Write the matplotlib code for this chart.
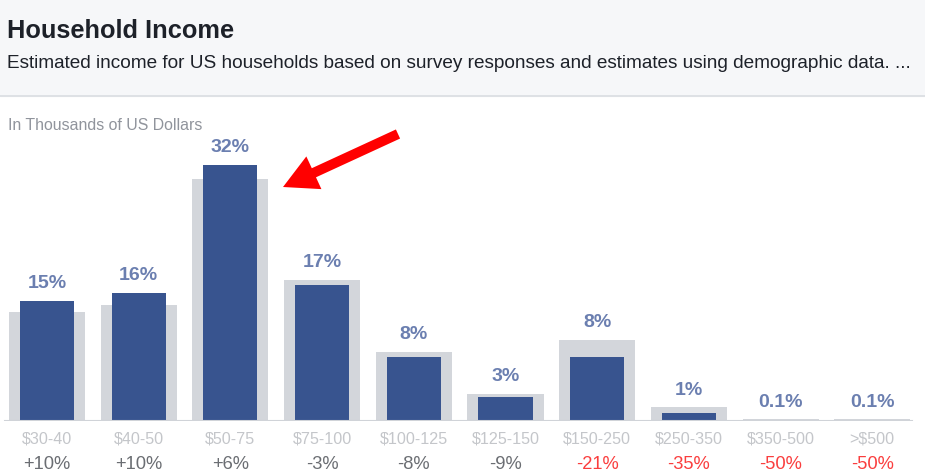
import matplotlib
matplotlib.use('Agg')
import matplotlib.pyplot as plt
import matplotlib.patches as mpatches

plt.rcParams['font.family'] = ['Liberation Sans', 'DejaVu Sans']

# income brackets (thousands of USD)
brackets = ['$30-40', '$40-50', '$50-75', '$75-100', '$100-125',
            '$125-150', '$150-250', '$250-350', '$350-500', '>$500']
# share of households, this area (blue) vs US average (grey)
local_pct = [15, 16, 32, 17, 8, 3, 8, 1, 0.1, 0.1]
us_pct = [13.6, 14.5, 30.2, 17.6, 8.6, 3.4, 10.1, 1.7, 0.2, 0.2]
# difference vs US average
change_pct = [10, 10, 6, -3, -8, -9, -21, -35, -50, -50]

BLUE = '#38548f'
GREY_BAR = '#d3d6db'
PCT_COLOR = '#6b7fb0'
TICK_COLOR = '#c4c6ca'
CHANGE_COLOR = '#6b6e73'
NEG_COLOR = '#fa3e3e'

W, H = 925, 477
fig = plt.figure(figsize=(W / 100, H / 100), dpi=100)

# bar area: baseline at 422px, 8px per percent
base_px = 422
top_px = 100
step = 91.7
first = 47
ax = fig.add_axes([0, (H - base_px) / H, 1, (base_px - top_px) / H])
ax.set_xlim(-first / step, (W - first) / step)
ax.set_ylim(0, (base_px - top_px) / 8)
ax.axis('off')

x = list(range(len(brackets)))
ax.bar(x, us_pct, width=0.83, color=GREY_BAR, zorder=1)
ax.bar(x, local_pct, width=0.59, color=BLUE, zorder=2)
ax.axhline(0, xmin=5 / W, xmax=912 / W, color='#d0d3d8', lw=1.5, zorder=3)

for i, lab in enumerate(brackets):
    top = max(local_pct[i], us_pct[i])
    ax.annotate(f'{local_pct[i]:g}%', (i, top), xytext=(0, 13.2),
                textcoords='offset points', ha='center', va='center',
                fontsize=14, fontweight='bold', color=PCT_COLOR)
    ax.annotate(lab, (i, 0), xytext=(0, -12.5),
                textcoords='offset points', ha='center', va='center',
                fontsize=11.6, color=TICK_COLOR)
    c = change_pct[i]
    ax.annotate(f'{c:+d}%', (i, 0), xytext=(0, -30.5),
                textcoords='offset points', ha='center', va='center',
                fontsize=13.2, color=NEG_COLOR if c <= -20 else CHANGE_COLOR)

# overlay in pixel coords for header and arrow
ov = fig.add_axes([0, 0, 1, 1], facecolor='none')
ov.set_xlim(0, W)
ov.set_ylim(H, 0)
ov.axis('off')
ov.add_patch(mpatches.Rectangle((0, 0), W, 97, color='#f6f7f9', zorder=0))
ov.plot([0, W], [97, 97], color='#dadde1', lw=1.2)

ov.text(7, 31, 'Household Income', fontsize=18.3, fontweight='bold',
        color='#1d2129', va='center', ha='left')
ov.text(7, 63, 'Estimated income for US households based on survey responses '
        'and estimates using demographic data. ...', fontsize=13.65,
        color='#1d2129', va='center', ha='left')
ov.text(8, 125, 'In Thousands of US Dollars', fontsize=11.4,
        color='#90949c', va='center', ha='left')

ov.add_patch(mpatches.FancyArrow(398, 135, 283 - 398, 188 - 135, width=10,
                                 head_width=36, head_length=34,
                                 length_includes_head=True,
                                 color='#ff0000', lw=0, zorder=5))

fig.savefig('out.png', dpi=100)
